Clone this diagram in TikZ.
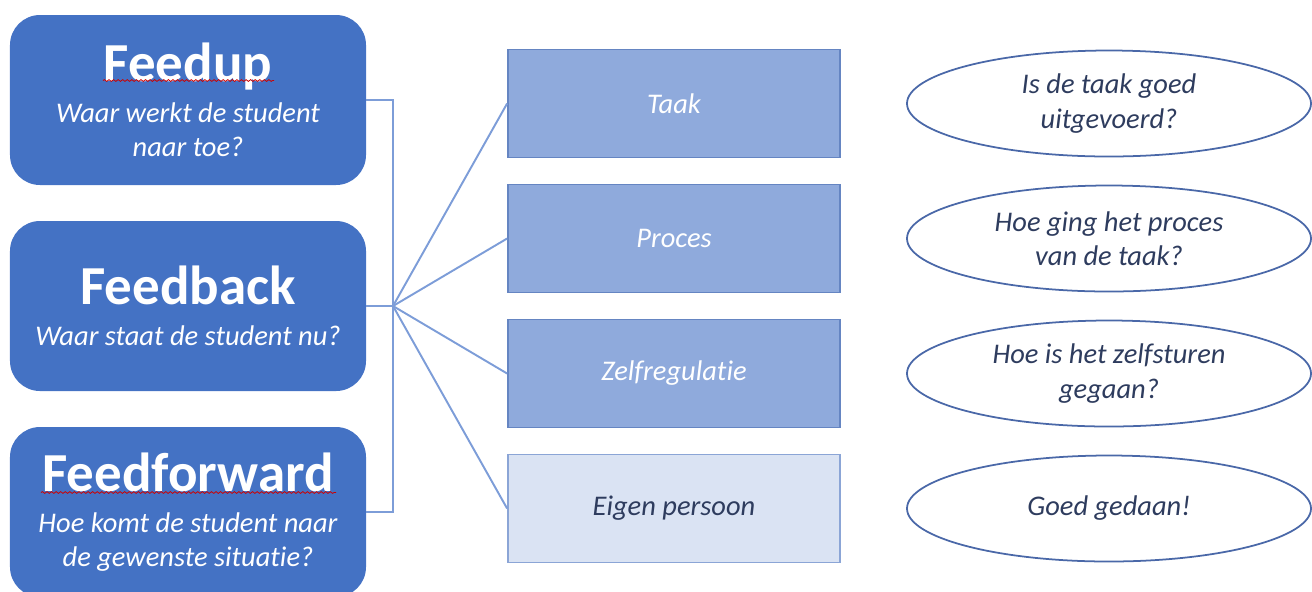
\documentclass[tikz,border=0pt]{standalone}
\usepackage{fontspec}
\setmainfont{Carlito}[Ligatures=NoCommon]
\usetikzlibrary{shapes.geometric,decorations.pathmorphing}

\definecolor{dblue}{HTML}{4472C4}
\definecolor{mblue}{HTML}{8FAADC}
\definecolor{lblue}{HTML}{DAE3F3}
\definecolor{rim}{HTML}{6585C2}
\definecolor{lrim}{HTML}{8BA5D6}
\definecolor{navy}{HTML}{2E3C5E}
\definecolor{oval}{HTML}{4A68A8}
\definecolor{wire}{HTML}{7D9DD8}

\newcommand{\titel}[1]{{\fontsize{31.3}{36}\selectfont\bfseries\upshape #1\rule[-11pt]{0pt}{11pt}}}
\newcommand{\vraag}{\fontsize{16.2}{19.5}\selectfont\itshape}

\tikzset{
  phase/.style={rectangle, rounded corners=0.6cm, fill=dblue, text=white,
    minimum width=7.12cm, minimum height=3.4cm, align=center, inner sep=0, font=\vraag},
  level/.style={rectangle, fill=mblue, draw=rim, line width=1pt, text=white,
    minimum width=6.64cm, minimum height=2.16cm, font=\vraag},
  question/.style={ellipse, draw=oval, line width=1pt, text=navy,
    minimum width=8.08cm, minimum height=2.12cm, align=center, inner sep=0, font=\vraag},
  link/.style={draw=wire, line width=1.1pt},
  spell/.style={red!80!black, line width=0.45pt, decorate,
    decoration={snake, amplitude=0.5pt, segment length=2.6pt}}
}

\begin{document}
\begin{tikzpicture}
        \useasboundingbox (-3.76,2.0) rectangle (22.48,-9.82);

        \node [phase] (1) {\titel{Feedup}\\ Waar werkt de student\\ naar toe?};
        \node [phase, below of=1, yshift=-3.12cm] (2) {\titel{Feedback}\\ Waar staat de student nu?};
        \node [phase, below of=2, yshift=-3.12cm] (3) {\titel{Feedforward}\\ Hoe komt de student naar\\ de gewenste situatie?};

        \node [level, right of=1, xshift=8.72cm, yshift=-0.07cm] (4) {Taak};
        \node [level, below of=4, yshift=-1.7cm] (5) {Proces};
        \node [level, below of=5, yshift=-1.7cm] (6) {Zelfregulatie};
        \node [level, below of=6, yshift=-1.7cm, fill=lblue, draw=lrim, text=navy] (7) {Eigen persoon};

        \node [question, right of=4, xshift=7.7cm] (8) {Is de taak goed\\ uitgevoerd?};
        \node [question, right of=5, xshift=7.7cm] (9) {Hoe ging het proces\\ van de taak?};
        \node [question, right of=6, xshift=7.7cm] (10) {Hoe is het zelfsturen\\ gegaan?};
        \node [question, right of=7, xshift=7.7cm] (11) {Goed gedaan!};

        % spelling marks under the titles
        \draw [spell] ([xshift=-1.7cm, yshift=0.39cm]1.center) -- ([xshift=1.72cm, yshift=0.39cm]1.center);
        \draw [spell] ([xshift=-2.94cm, yshift=0.39cm]3.center) -- ([xshift=2.96cm, yshift=0.39cm]3.center);

        \coordinate [right of=2, xshift=3.1cm] (j);
        \draw [link] (1.east) -| (j) |- (3.east);
        \draw [link] (2.east) -- (j);
        \foreach \n in {4,...,7}
          \draw [link] (j) -- (\n.west);
      \end{tikzpicture}
\end{document}
